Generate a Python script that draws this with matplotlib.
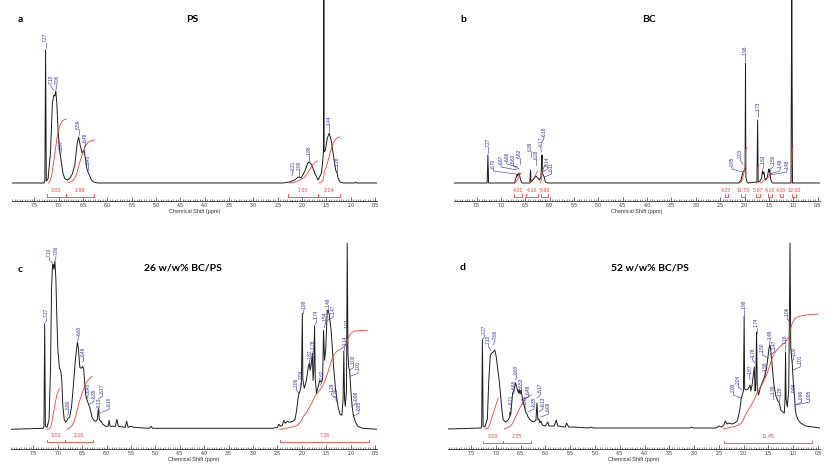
import numpy as np
import matplotlib.pyplot as plt
from matplotlib.ticker import MultipleLocator, FormatStrFormatter

plt.rcParams['font.family'] = ['Liberation Sans', 'DejaVu Sans']

W, H = 830, 467
BLUE = '#2f2f9c'
RED = '#e8453c'

# ---- panel a : PS ----
a_ppm = [7.96, 7.30, 7.285, 7.27, 7.255, 7.22, 7.17, 7.13, 7.10, 7.08, 7.06, 7.04, 7.01, 6.98,
         6.95, 6.91, 6.87, 6.82, 6.77, 6.72, 6.67, 6.62, 6.59, 6.56, 6.52, 6.48, 6.45, 6.42,
         6.40, 6.37, 6.33, 6.28, 6.20, 2.40, 2.25, 2.21, 2.15, 2.08, 2.06, 2.02, 1.95, 1.88,
         1.86, 1.80, 1.73, 1.67, 1.60, 1.57, 1.56, 1.553, 1.546, 1.52, 1.48, 1.44, 1.40, 1.35,
         1.31, 1.28, 1.26, 1.22, 1.15, 0.92, 0.90, 0.88, 0.46]
a_int = [0, 0, 2, 133, 2, 4, 30, 80, 88, 87, 92, 80, 50, 32,
         22, 9, 4, 3, 5, 9, 18, 40, 46, 38, 30, 33, 24, 14,
         11, 8, 3, 1, 0, 0, 1, 2, 3, 6, 6, 5, 11, 20,
         21, 18, 9, 3, 10, 25, 31, 200, 31, 33, 45, 50, 42, 26,
         13, 10, 5, 1, 0, 0, 1, 0, 0]
a_lab = ['7.27', '7.10', '7.06', '6.97', '6.59', '6.48', '6.40', '2.21', '2.06', '1.86', '1.44', '1.28']
a_lab_x = [7.27, 7.16, 7.04, 6.95, 6.59, 6.45, 6.40, 2.19, 2.06, 1.86, 1.44, 1.28]
a_lab_y = [135, 93, 93, 28, 48, 35, 13, 7, 7, 22, 52, 11]
a_br_lo = [7.25, 6.85, 2.28, 1.68]
a_br_hi = [6.85, 6.28, 1.68, 1.22]
a_br_txt = ['3.00', '1.99', '1.00', '2.14']
a_ig_lo = [7.21, 6.81, 2.26, 1.65]
a_ig_hi = [6.84, 6.26, 1.68, 1.22]
a_ig_h = [64, 43, 22, 46]

# ---- panel b : BC ----
b_ppm = [7.96, 7.285, 7.27, 7.255, 6.72, 6.70, 6.685, 6.67, 6.66, 6.65, 6.63, 6.62, 6.60, 6.57,
         6.41, 6.395, 6.385, 6.35, 6.31, 6.28, 6.25, 6.21, 6.18, 6.168, 6.158, 6.148, 6.13, 6.11,
         6.09, 6.04, 2.12, 2.07, 2.05, 2.03, 2.00, 1.988, 1.98, 1.972, 1.95, 1.92, 1.745, 1.73,
         1.72, 1.68, 1.65, 1.63, 1.615, 1.60, 1.585, 1.56, 1.53, 1.51, 1.50, 1.49, 1.48, 1.465,
         1.43, 1.045, 1.03, 1.015, 0.46]
b_int = [0, 0, 28, 0, 0, 4, 6, 9, 7, 8, 10, 8, 3, 0,
         0, 13, 1, 3, 5, 7, 5, 3, 6, 20, 28, 9, 8, 5,
         1, 0, 0, 3, 8, 11, 13, 14, 120, 6, 1, 0, 1, 63,
         1, 2, 5, 12, 9, 11, 5, 3, 6, 12, 14, 11, 13, 4,
         0, 0, 210, 0, 0]
b_lab = ['7.27', '6.70', '6.67', '6.66', '6.63', '6.62', '6.39', '6.28', '6.17', '6.16', '6.14', '6.11',
         '2.05', '2.03', '1.98', '1.73', '1.63', '1.50', '1.49', '1.48']
b_lab_x = [7.27, 7.16, 7.00, 6.88, 6.75, 6.62, 6.39, 6.28, 6.18, 6.12, 6.05, 5.96,
           2.26, 2.08, 1.98, 1.73, 1.61, 1.41, 1.27, 1.13]
b_lab_y = [30, 9, 13, 16, 14, 19, 26, 18, 31, 41, 11, 6,
           11, 19, 122, 66, 13, 13, 9, 8]
b_br_lo = [6.73, 6.49, 6.17, 2.41, 2.08, 1.76, 1.52, 1.28, 1.02]
b_br_hi = [6.57, 6.25, 6.03, 2.33, 2.00, 1.68, 1.44, 1.20, 0.94]
b_br_txt = ['4.01', '4.10', '5.93', '4.23', '11.73', '5.97', '4.10', '4.06', '12.02']
b_ig_lo = [6.72, 6.42, 6.20, 2.10, 1.76, 1.68, 1.06]
b_ig_hi = [6.58, 6.25, 6.08, 1.95, 1.70, 1.45, 1.00]
b_ig_h = [10, 12, 18, 35, 18, 9, 35]

# ---- panel c : 26 w/w% BC/PS ----
c_ppm = [7.96, 7.30, 7.285, 7.27, 7.255, 7.22, 7.18, 7.15, 7.13, 7.11, 7.10, 7.08, 7.06, 7.04,
         7.02, 7.00, 6.97, 6.94, 6.92, 6.90, 6.87, 6.84, 6.81, 6.79, 6.76, 6.72, 6.68, 6.64,
         6.60, 6.58, 6.55, 6.52, 6.49, 6.47, 6.44, 6.42, 6.40, 6.37, 6.34, 6.30, 6.26, 6.22,
         6.19, 6.17, 6.15, 6.13, 6.11, 6.08, 6.02, 5.97, 5.95, 5.93, 5.82, 5.79, 5.76, 5.62,
         5.59, 5.56, 5.50, 5.45, 5.12, 5.09, 5.06, 4.80, 3.06, 2.60, 2.50, 2.47, 2.44, 2.40,
         2.37, 2.34, 2.30, 2.25, 2.18, 2.14, 2.11, 2.08, 2.06, 2.04, 2.01, 1.99, 1.98, 1.95,
         1.91, 1.87, 1.85, 1.83, 1.81, 1.785, 1.77, 1.755, 1.74, 1.725, 1.70, 1.66, 1.63, 1.60,
         1.575, 1.555, 1.535, 1.51, 1.48, 1.46, 1.44, 1.40, 1.35, 1.31, 1.29, 1.26, 1.22, 1.18,
         1.155, 1.14, 1.125, 1.11, 1.085, 1.07, 1.055, 1.04, 1.02, 1.01, 0.99, 0.97, 0.94, 0.90,
         0.85, 0.75, 0.46]
c_int = [0, 1, 3, 105, 3, 2, 10, 60, 140, 163, 165, 160, 168, 150,
         110, 80, 62, 58, 50, 25, 10, 7, 9, 11, 12, 22, 45, 70,
         87, 82, 62, 61, 63, 60, 40, 32, 29, 25, 21, 12, 9, 8,
         10, 21, 10, 8, 8, 5, 3, 3, 9, 3, 3, 10, 3, 2,
         8, 2, 3, 2, 1, 3, 1, 1, 1, 1, 2, 5, 3, 4,
         9, 6, 8, 7, 8, 10, 18, 30, 36, 38, 45, 116, 50, 41,
         48, 62, 66, 59, 64, 76, 49, 60, 103, 50, 36, 44, 49, 47,
         50, 99, 69, 80, 119, 119, 115, 99, 63, 40, 33, 23, 15, 14,
         30, 78, 30, 23, 40, 186, 76, 62, 59, 50, 35, 23, 13, 7,
         3, 1, 0]
c_lab = ['7.27', '7.10', '7.06', '6.80', '6.60', '6.49', '6.40', '6.35', '6.17', '6.13', '6.10',
         '2.06', '2.04', '1.99', '1.82', '1.78', '1.74', '1.62', '1.54', '1.48', '1.47', '1.29',
         '1.26', '1.14', '1.07', '1.02', '1.01', '0.98', '0.95']
c_lab_x = [7.23, 7.17, 7.04, 6.78, 6.57, 6.47, 6.38, 6.26, 6.09, 6.16, 5.95,
           2.11, 2.01, 1.96, 1.84, 1.77, 1.70, 1.59, 1.52, 1.46, 1.36, 1.39,
           1.30, 1.12, 1.07, 0.94, 0.85, 0.89, 0.83]
c_lab_y = [106, 166, 168, 14, 88, 67, 31, 25, 30, 16, 17,
           36, 44, 114, 64, 74, 104, 44, 102, 116, 109, 31,
           26, 78, 95, 59, 53, 23, 13]
c_br_lo = [7.22, 6.85, 2.45]
c_br_hi = [6.85, 6.28, 0.62]
c_br_txt = ['3.00', '2.16', '7.26']
c_ig_lo = [7.22, 6.82, 2.45]
c_ig_hi = [6.97, 6.30, 0.66]
c_ig_h = [41, 53, 99]

# ---- panel d : 52 w/w% BC/PS ----
d_ppm = [7.96, 7.30, 7.285, 7.27, 7.255, 7.22, 7.17, 7.14, 7.11, 7.08, 7.05, 7.02, 6.99, 6.96,
         6.93, 6.90, 6.87, 6.85, 6.80, 6.75, 6.72, 6.71, 6.70, 6.67, 6.66, 6.64, 6.61, 6.60,
         6.57, 6.54, 6.53, 6.51, 6.49, 6.46, 6.42, 6.40, 6.37, 6.35, 6.32, 6.28, 6.23, 6.19,
         6.17, 6.15, 6.13, 6.11, 6.09, 6.06, 6.00, 5.95, 5.93, 5.82, 5.78, 5.75, 5.60, 5.57,
         5.53, 5.45, 5.12, 5.08, 5.04, 3.08, 3.05, 3.02, 2.55, 2.50, 2.45, 2.40, 2.37, 2.34,
         2.30, 2.24, 2.18, 2.13, 2.09, 2.07, 2.05, 2.03, 2.005, 1.99, 1.98, 1.95, 1.91, 1.87,
         1.855, 1.83, 1.785, 1.77, 1.755, 1.74, 1.725, 1.70, 1.66, 1.62, 1.58, 1.54, 1.51, 1.49,
         1.475, 1.46, 1.43, 1.39, 1.35, 1.31, 1.28, 1.25, 1.21, 1.18, 1.165, 1.155, 1.145, 1.12,
         1.09, 1.065, 1.05, 1.03, 1.02, 1.01, 0.99, 0.97, 0.96, 0.94, 0.90, 0.85, 0.75, 0.60,
         0.46]
d_int = [0, 1, 3, 89, 3, 2, 10, 50, 74, 76, 77, 79, 72, 60,
         48, 32, 16, 9, 7, 9, 12, 17, 14, 30, 36, 38, 44, 46,
         40, 36, 40, 35, 39, 30, 22, 17, 15, 12, 10, 8, 7, 9,
         26, 9, 10, 6, 8, 4, 3, 7, 3, 3, 9, 3, 2, 6,
         2, 2, 1, 2, 1, 1, 2, 1, 1, 3, 2, 4, 8, 5,
         6, 5, 6, 8, 16, 22, 30, 34, 38, 113, 40, 39, 40, 44,
         38, 44, 62, 38, 45, 97, 40, 34, 42, 47, 52, 60, 72, 80,
         84, 82, 66, 44, 33, 28, 26, 19, 17, 16, 30, 77, 30, 22,
         40, 186, 82, 70, 66, 56, 40, 30, 20, 14, 9, 6, 3, 2,
         1]
d_lab = ['7.27', '7.10', '7.06', '6.71', '6.66', '6.60', '6.53', '6.49', '6.40', '6.35', '6.17',
         '6.13', '6.09', '2.06', '2.04', '1.99', '1.87', '1.78', '1.74', '1.50', '1.56', '1.48',
         '1.47', '1.39', '1.28', '1.16', '1.06', '1.02', '1.01', '0.98', '0.96', '0.95']
d_lab_x = [7.23, 7.15, 7.02, 6.69, 6.63, 6.58, 6.48, 6.34, 6.41, 6.23, 6.10,
           6.05, 5.94, 2.21, 2.11, 1.99, 1.88, 1.82, 1.74, 1.62, 1.57, 1.47,
           1.38, 1.40, 1.27, 1.16, 1.12, 0.99, 0.86, 0.98, 0.83, 0.67]
d_lab_y = [89, 79, 84, 19, 34, 49, 36, 29, 19, 17, 31,
           17, 12, 31, 39, 114, 49, 66, 96, 71, 52, 84,
           74, 29, 27, 79, 107, 67, 59, 31, 24, 24]
d_br_lo = [7.25, 6.85, 2.40]
d_br_hi = [6.85, 6.28, 0.62]
d_br_txt = ['3.00', '2.35', '11.45']
d_ig_lo = [7.22, 6.83, 2.41]
d_ig_hi = [6.95, 6.28, 0.50]
d_ig_h = [31, 34, 115]

fig = plt.figure(figsize=(W / 100, H / 100), dpi=100)


def panel(box, base, br_px, ppm, inten, labs, lab_x, lab_y,
          br_lo, br_hi, br_txt, ig_lo, ig_hi, ig_h):
    x0, x1, ytop, yrul = box
    ax = fig.add_axes([x0 / W, 1 - yrul / H, (x1 - x0) / W, (yrul - ytop) / H])
    ax.set_xlim(7.96, 0.46)
    ax.set_ylim(-(yrul - base), base - ytop)
    for s in ['top', 'left', 'right']:
        ax.spines[s].set_visible(False)
    ax.spines['bottom'].set_linewidth(0.6)
    ax.spines['bottom'].set_color('#333333')
    ax.set_yticks([])
    ax.xaxis.set_major_locator(MultipleLocator(0.5))
    ax.xaxis.set_minor_locator(MultipleLocator(0.05))
    ax.xaxis.set_major_formatter(FormatStrFormatter('%.1f'))
    ax.tick_params(axis='x', which='major', direction='in', length=3, width=0.5,
                   labelsize=3.6, pad=1.2, colors='#333333')
    ax.tick_params(axis='x', which='minor', direction='in', length=1.5, width=0.4,
                   colors='#333333')
    ax.set_xlabel('Chemical Shift (ppm)', fontsize=4, labelpad=0.8, color='#333333')

    ax.plot(ppm, inten, color='#1c1c1c', lw=0.7)

    # integral curves: running sum of the spectrum over each region
    order = np.argsort(ppm)
    xs = np.asarray(ppm, float)[order]
    ys = np.asarray(inten, float)[order]
    for lo, hi, h in zip(ig_lo, ig_hi, ig_h):
        xg = np.linspace(lo, hi, 300)
        yg = np.interp(xg, xs, ys)
        cum = np.concatenate([[0], np.cumsum((yg[1:] + yg[:-1]) / 2)])
        ax.plot(xg, h * cum / cum[-1], color=RED, lw=0.6)

    yb = -(br_px - base)
    for lo, hi, t in zip(br_lo, br_hi, br_txt):
        ax.plot([lo, lo, hi, hi], [yb + 2.5, yb, yb, yb + 2.5], color=RED, lw=0.6,
                clip_on=False)
        ax.text((lo + hi) / 2, yb + 6.5, t, color=RED, fontsize=3.8,
                ha='center', va='center')

    for t, xt, yt in zip(labs, lab_x, lab_y):
        xp = float(t)
        ax.plot([xp, xt, xt], [yt, yt + 3, yt + 5.5], color=BLUE, lw=0.4)
        ax.text(xt, yt + 6, t, rotation=90, ha='center', va='bottom',
                fontsize=3.4, color=BLUE)
    return ax


panel((12, 377, 0, 201.5), 183, 196.7, a_ppm, a_int, a_lab, a_lab_x, a_lab_y,
      a_br_lo, a_br_hi, a_br_txt, a_ig_lo, a_ig_hi, a_ig_h)
panel((454.3, 819.5, 0, 201.5), 183, 196.7, b_ppm, b_int, b_lab, b_lab_x, b_lab_y,
      b_br_lo, b_br_hi, b_br_txt, b_ig_lo, b_ig_hi, b_ig_h)
panel((11, 377, 240, 449), 429.3, 442.3, c_ppm, c_int, c_lab, c_lab_x, c_lab_y,
      c_br_lo, c_br_hi, c_br_txt, c_ig_lo, c_ig_hi, c_ig_h)
panel((448.2, 820, 240, 449), 429, 443.3, d_ppm, d_int, d_lab, d_lab_x, d_lab_y,
      d_br_lo, d_br_hi, d_br_txt, d_ig_lo, d_ig_hi, d_ig_h)

head = dict(fontweight='bold', fontsize=7.5, ha='center', va='center', family=['Lato', 'DejaVu Sans'])
fig.text(20 / W, 1 - 20 / H, 'a', **head)
fig.text(463 / W, 1 - 20 / H, 'b', **head)
fig.text(20 / W, 1 - 269 / H, 'c', **head)
fig.text(463 / W, 1 - 268 / H, 'd', **head)
fig.text(192 / W, 1 - 19 / H, 'PS', **head)
fig.text(649 / W, 1 - 20 / H, 'BC', **head)
fig.text(183 / W, 1 - 268 / H, '26 w/w% BC/PS', **head)
fig.text(650 / W, 1 - 268 / H, '52 w/w% BC/PS', **head)

fig.savefig('out.png', dpi=100)
